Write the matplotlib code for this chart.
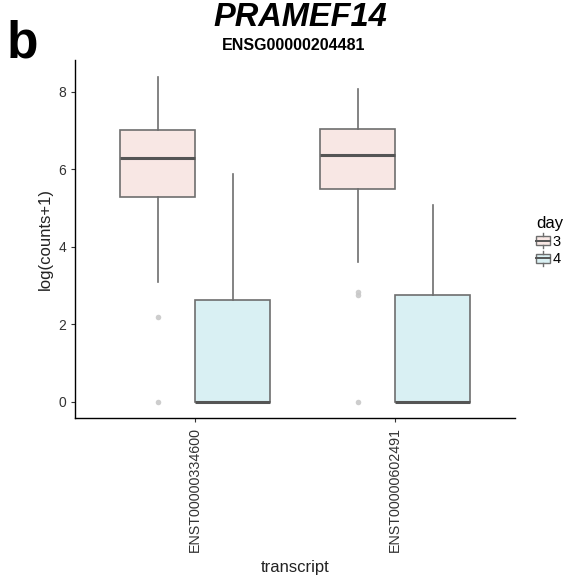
import matplotlib
matplotlib.use("Agg")
import matplotlib.pyplot as plt
from matplotlib.patches import Patch, Rectangle
from matplotlib.lines import Line2D
from matplotlib.legend_handler import HandlerBase
import numpy as np

plt.rcParams['font.family'] = ['Liberation Sans', 'DejaVu Sans']

transcripts = ["ENST00000334600", "ENST00000602491"]
days = ["3", "4"]
# per transcript, per day: whislo, q1, median, q3, whishi
whislo = [[3.08, 0.0], [3.61, 0.0]]
q1 = [[5.29, 0.0], [5.50, 0.0]]
med = [[6.29, 0.0], [6.37, 0.0]]
q3 = [[7.02, 2.63], [7.03, 2.75]]
whishi = [[8.39, 5.88], [8.06, 5.09]]
outliers = [[[2.19, 0.0], []], [[2.75, 2.82, 0.0], []]]
fills = ["#f8e7e4", "#d9f0f3"]
edge = "#6e6e6e"


class BoxHandler(HandlerBase):
    def create_artists(self, legend, orig_handle, xdescent, ydescent, width, height, fontsize, trans):
        cx = width / 2 - xdescent
        bw = width * 0.95
        bh = height * 0.62
        y0 = -ydescent + (height - bh) / 2
        r = Rectangle((cx - bw / 2, y0), bw, bh, facecolor=orig_handle.get_facecolor(),
                      edgecolor=edge, linewidth=1.0, transform=trans)
        v1 = Line2D([cx, cx], [-ydescent, y0], color=edge, lw=1.0, transform=trans)
        v2 = Line2D([cx, cx], [y0 + bh, -ydescent + height], color=edge, lw=1.0, transform=trans)
        m = Line2D([cx - bw / 2, cx + bw / 2], [y0 + bh / 2] * 2, color="#555555", lw=1.4, transform=trans)
        return [r, v1, v2, m]


fig = plt.figure(figsize=(5.65, 5.82), dpi=100)
ax = fig.add_axes([75/565, 1-418/582, 440/565, 358/582])

width = 0.375
for i, t in enumerate(transcripts):
    for j, d in enumerate(days):
        pos = (i + 1) + (j - 0.5) * width
        st = dict(whislo=whislo[i][j], q1=q1[i][j], med=med[i][j], q3=q3[i][j],
                  whishi=whishi[i][j], fliers=outliers[i][j])
        ax.bxp([st], positions=[pos], widths=[width], patch_artist=True,
               showcaps=False,
               boxprops=dict(facecolor=fills[j], edgecolor=edge, linewidth=1.2),
               medianprops=dict(color="#555555", linewidth=2.2),
               whiskerprops=dict(color=edge, linewidth=1.2),
               flierprops=dict(marker="o", markersize=4, markerfacecolor="#c8c8c8",
                               markeredgecolor="none", alpha=0.9))

ax.set_xlim(0.4, 2.6)
ax.set_ylim(-0.42, 8.82)
ax.set_xticks([1, 2])
ax.set_xticklabels(transcripts, rotation=90, fontsize=10.3, color="#333333")
ax.set_yticks([0, 2, 4, 6, 8])
ax.set_yticklabels(["0", "2", "4", "6", "8"], fontsize=10, color="#333333")
ax.tick_params(length=3, color="#333333")
for s in ["top", "right"]:
    ax.spines[s].set_visible(False)
for s in ["left", "bottom"]:
    ax.spines[s].set_color("black")
    ax.spines[s].set_linewidth(1.0)
ax.set_ylabel("log(counts+1)", fontsize=12, color="#222222")
ax.set_xlabel("transcript", fontsize=12, color="#222222", labelpad=6)

fig.text(300/565, 1-17/582, "PRAMEF14", fontsize=23.5, fontweight="bold",
         fontstyle="italic", ha="center", va="center")
fig.text(294/565, 1-46/582, "ENSG00000204481", fontsize=11.5, fontweight="bold",
         ha="center", va="center")
fig.text(7/565, 1-57/582, "b", fontsize=37, fontweight="bold", ha="left", va="baseline")

handles = [Patch(facecolor=fills[k], edgecolor=edge, label=d) for k, d in enumerate(days)]
leg = fig.legend(handles=handles, title="day", loc="upper left",
                 bbox_to_anchor=(536/565, 1-216/582), frameon=False, fontsize=10.5,
                 title_fontsize=12, handlelength=1.0, handleheight=1.2,
                 handletextpad=0.15, labelspacing=0.15, borderpad=0,
                 borderaxespad=0, handler_map={Patch: BoxHandler()})
leg._legend_box.align = "left"

fig.savefig("out.png", dpi=100)
